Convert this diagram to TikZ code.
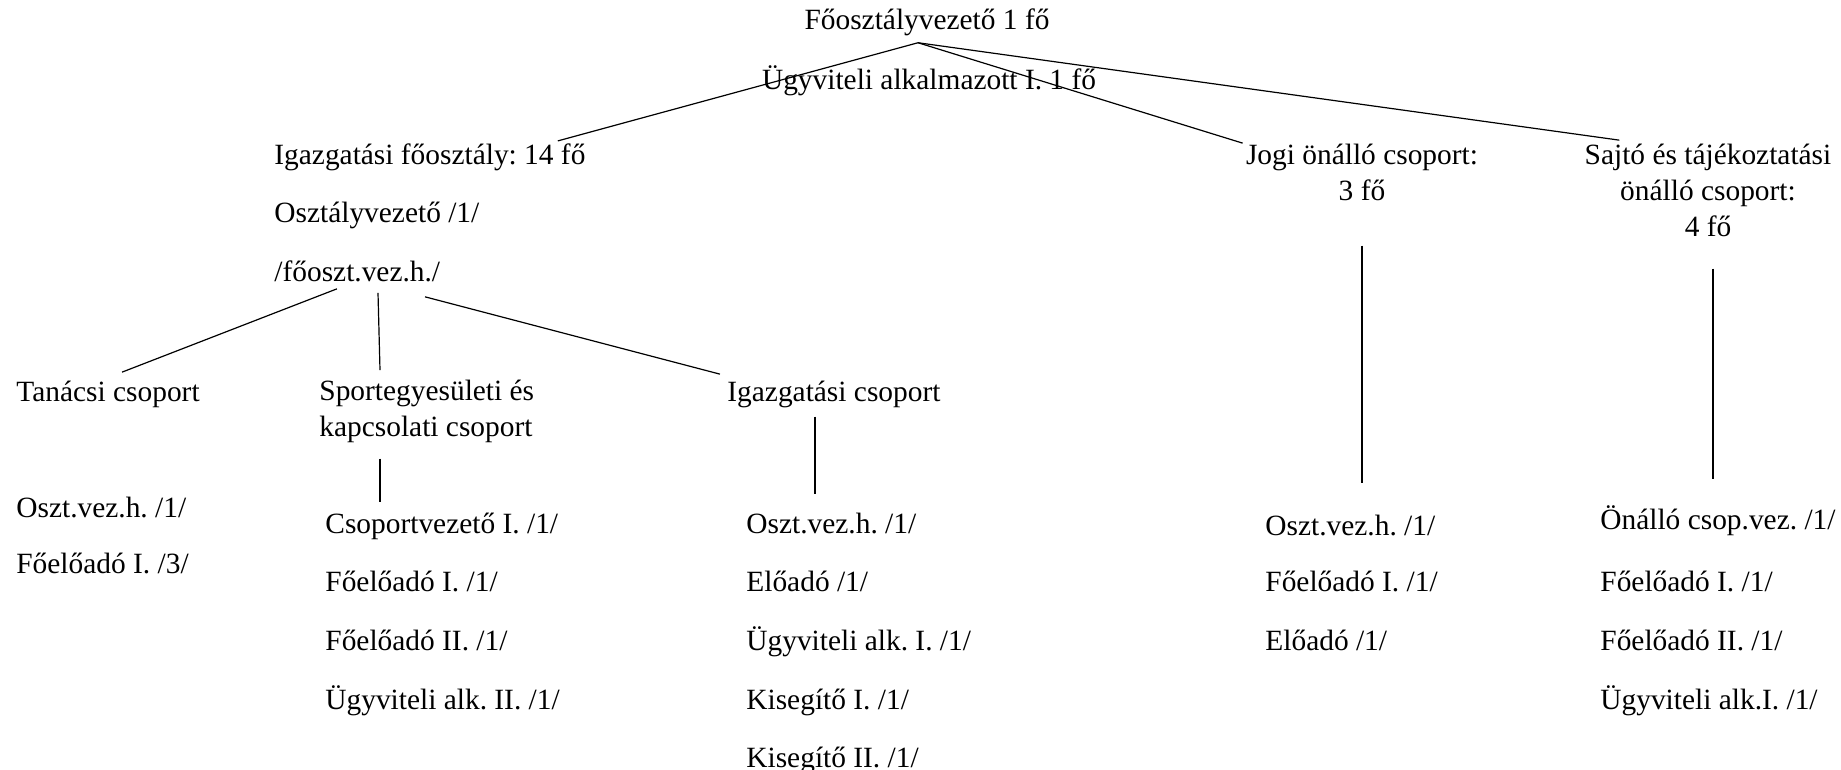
\documentclass[tikz,border=0pt]{standalone}
\usepackage{fontspec}
\setmainfont{Liberation Serif}

\begin{document}
\frenchspacing
\begin{tikzpicture}[x=0.5pt, y=-0.5pt,
					lbl/.style={inner sep=0pt, anchor=base west, font=\fontsize{14.7}{18}\selectfont},
					ctr/.style={inner sep=0pt, anchor=base, align=center, font=\fontsize{14.7}{18}\selectfont},
					link/.style={line width=0.6pt},
				]
			        \useasboundingbox (0,0) rectangle (1841,770);

			        % top of the chart
			        \node[ctr] (top) at (927,30) {Főosztályvezető 1 fő};
			        \node[ctr] (ugyv) at (929,90) {Ügyviteli alkalmazott I. 1 fő};
			        \coordinate (apex) at ([shift={(-9,6)}]top.south);

			        % second level (base of a multi-line node = its last line)
			        \node[lbl] (igfo) at (274,165) {Igazgatási főosztály: 14 fő};
			        \node[lbl] (oszt) at (274,223) {Osztályvezető /1/};
			        \node[lbl] (foh) at (274,281) {/főoszt.vez.h./};
			        \node[ctr] (jogi) at (1362,201) {Jogi önálló csoport:\\3 fő};
			        \node[ctr] (sajto) at (1708,237) {Sajtó és tájékoztatási\\önálló csoport:\\4 fő};

			        % groups
			        \node[lbl] (tan) at (16,401) {Tanácsi csoport};
			        \node[lbl, align=left] (sport) at (319,436) {Sportegyesületi és\\kapcsolati csoport};
			        \node[lbl] (igcs) at (727,401) {Igazgatási csoport};

			        % staff lists
			        \node[lbl] (t1) at (16,517) {Oszt.vez.h. /1/};
			        \node[lbl] (t2) at (16,573) {Főelőadó I. /3/};

			        \node[lbl] (s1) at (325,533) {Csoportvezető I. /1/};
			        \node[lbl] (s2) at (325,591) {Főelőadó I. /1/};
			        \node[lbl] (s3) at (325,650) {Főelőadó II. /1/};
			        \node[lbl] (s4) at (325,709) {Ügyviteli alk. II. /1/};

			        \node[lbl] (i1) at (746,533) {Oszt.vez.h. /1/};
			        \node[lbl] (i2) at (746,591) {Előadó /1/};
			        \node[lbl] (i3) at (746,650) {Ügyviteli alk. I. /1/};
			        \node[lbl] (i4) at (746,709) {Kisegítő I. /1/};
			        \node[lbl] (i5) at (746,767) {Kisegítő II. /1/};

			        \node[lbl] (j1) at (1265,535) {Oszt.vez.h. /1/};
			        \node[lbl] (j2) at (1265,591) {Főelőadó I. /1/};
			        \node[lbl] (j3) at (1265,650) {Előadó /1/};

			        \node[lbl] (p1) at (1600,529) {Önálló csop.vez. /1/};
			        \node[lbl] (p2) at (1600,591) {Főelőadó I. /1/};
			        \node[lbl] (p3) at (1600,650) {Főelőadó II. /1/};
			        \node[lbl] (p4) at (1600,709) {Ügyviteli alk.I. /1/};

			        % connecting lines
			        \draw[link] (apex) -- ([shift={(-28,-3)}]igfo.north east);
			        \draw[link] (apex) -- ([shift={(-3,-1)}]jogi.north west);
			        \draw[link] (apex) -- ([shift={(35,-4)}]sajto.north west);

			        \draw[link] ([shift={(63,7)}]foh.south west) -- ([shift={(106,-8)}]tan.north west);
			        \draw[link] ([shift={(104,11)}]foh.south west) -- ([shift={(61,-9)}]sport.north west);
			        \draw[link] ([shift={(151,15)}]foh.south west) -- ([shift={(-7,-6)}]igcs.north west);

			        \draw[link] ([shift={(61,16)}]sport.south west) -- ([shift={(55,-10)}]s1.north west);
			        \draw[link] ([shift={(88,9)}]igcs.south west) -- ([shift={(69,-18)}]i1.north west);
			        \draw[link] ([shift={(0,44)}]jogi.south) -- ([shift={(97,-31)}]j1.north west);
			        \draw[link] ([shift={(5,31)}]sajto.south) -- ([shift={(113,-26)}]p1.north west);
			    \end{tikzpicture}
\end{document}
